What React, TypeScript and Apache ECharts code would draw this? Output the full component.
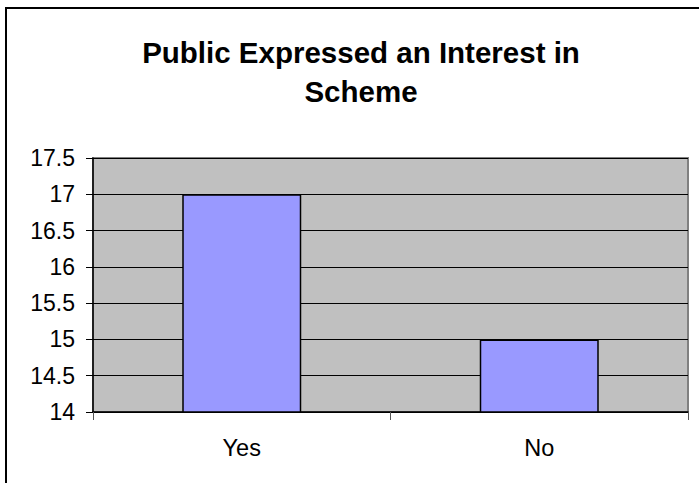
import React, { useEffect, useRef } from "react";
import * as echarts from "echarts";

const titleLines = ["Public Expressed an Interest in", "Scheme"];
const categories = ["Yes", "No"];
const values = [17, 15];
const yMin = 14;
const yMax = 17.5;
const yInterval = 0.5;

export default function App() {
  const ref = useRef<HTMLDivElement>(null);
  useEffect(() => {
    document.body.style.margin = "0";
    if (!ref.current) return;
    const chart = echarts.init(ref.current, undefined, { renderer: "svg" });
    chart.setOption({
      animation: false,
      backgroundColor: "#ffffff",
      title: {
        text: titleLines.join("\n"),
        left: 356,
        textAlign: "center",
        top: 28,
        textStyle: {
          fontFamily: "Liberation Sans, Arial, sans-serif",
          fontWeight: "bold",
          fontSize: 29.5,
          lineHeight: 39,
          color: "#000",
        },
      },
      graphic: [
        {
          type: "rect",
          shape: { x: 6, y: 8, width: 760, height: 560 },
          style: { fill: "none", stroke: "#000", lineWidth: 2 },
          z: 100,
        },
      ],
      grid: {
        left: 93,
        right: 11,
        top: 158,
        bottom: 71,
        show: true,
        backgroundColor: "#C0C0C0",
        borderColor: "#808080",
        borderWidth: 2,
      },
      xAxis: {
        type: "category",
        data: categories,
        boundaryGap: true,
        axisLine: { show: true, lineStyle: { color: "#000", width: 1.5 } },
        axisTick: { show: true, length: 8, lineStyle: { color: "#555" } },
        axisLabel: {
          margin: 24,
          fontFamily: "Liberation Sans, Arial, sans-serif",
          fontSize: 23.5,
          color: "#000",
        },
        splitLine: { show: false },
      },
      yAxis: {
        type: "value",
        min: yMin,
        max: yMax,
        interval: yInterval,
        axisLine: { show: true, lineStyle: { color: "#000", width: 1.5 } },
        axisTick: { show: true, length: 7, lineStyle: { color: "#000" } },
        axisLabel: {
          margin: 18,
          fontFamily: "Liberation Sans, Arial, sans-serif",
          fontSize: 23,
          color: "#000",
        },
        splitLine: { show: true, lineStyle: { color: "#000", width: 1 } },
      },
      series: [
        {
          type: "bar",
          data: values,
          barWidth: "40%",
          itemStyle: { color: "#9999FF", borderColor: "#000", borderWidth: 1.5 },
        },
      ],
    });
    return () => chart.dispose();
  }, []);
  return <div ref={ref} style={{ width: 699, height: 483 }} />;
}
